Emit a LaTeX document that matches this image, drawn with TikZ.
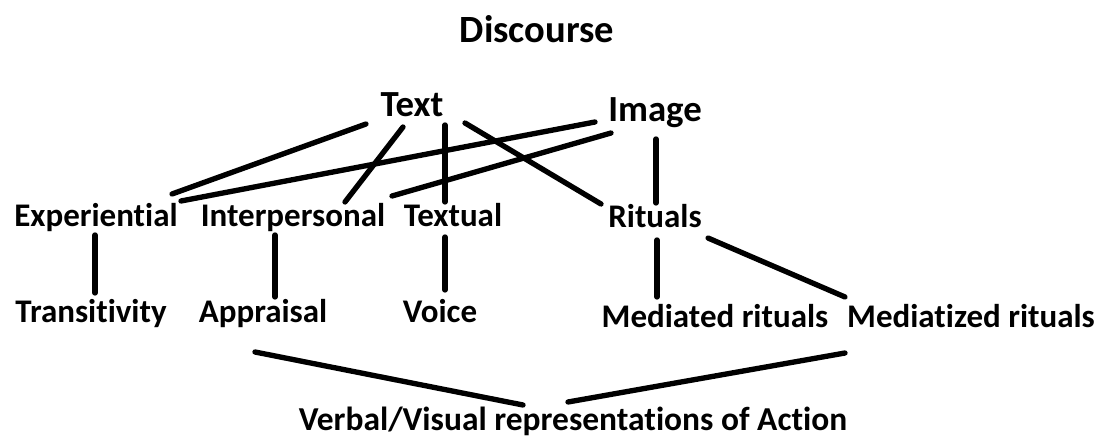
\documentclass[tikz,border=0pt]{standalone}
\usepackage{fontspec}
\setmainfont{Carlito}[RawFeature=-liga]
\begin{document}
\begin{tikzpicture}[x=0.75pt,y=-0.75pt,
  lbl/.style={font=\bfseries\fontsize{24.75pt}{28pt}\selectfont, inner sep=0pt, anchor=base},
  btm/.style={font=\bfseries\fontsize{25.1pt}{28pt}\selectfont, inner sep=0pt, anchor=base},
  big/.style={font=\bfseries\fontsize{27.6pt}{30pt}\selectfont, inner sep=0pt, anchor=base},
  ttl/.style={font=\bfseries\fontsize{28.9pt}{32pt}\selectfont, inner sep=0pt, anchor=base},
  conn/.style={line width=4pt, line cap=round}]
\useasboundingbox (0,0) rectangle (1099,441);
% nodes
\node[ttl] (discourse) at (537,43) {Discourse};
\node[big] (text) at (412,117) {Text};
\node[big] (image) at (655,122) {Image};
\node[lbl] (exp) at (96,227) {Experiential};
\node[lbl] (interp) at (293,227) {Interpersonal};
\node[lbl] (textual) at (453,227) {Textual};
\node[lbl] (rituals) at (655,228) {Rituals};
\node[lbl] (trans) at (91,323) {Transitivity};
\node[lbl] (appr) at (263,323) {Appraisal};
\node[lbl] (voice) at (440,323) {Voice};
\node[lbl] (medd) at (715,328) {Mediated rituals};
\node[lbl] (medz) at (971,328) {Mediatized rituals};
\node[btm] (verbal) at (573,430) {Verbal/Visual representations of Action};
% connector end points
\coordinate (text-a) at (366,124);
\coordinate (exp-a) at (172,194);
\coordinate (image-a) at (595,122);
\coordinate (exp-b) at (181,201);
\coordinate (text-b) at (403,127);
\coordinate (interp-a) at (345,202);
\coordinate (text-c) at (445,125);
\coordinate (textual-a) at (445,202);
\coordinate (image-b) at (611,133);
\coordinate (interp-b) at (392,196);
\coordinate (text-d) at (465,123);
\coordinate (rituals-a) at (601,204);
\coordinate (image-c) at (656,139);
\coordinate (rituals-b) at (656,203);
\coordinate (exp-c) at (95,235);
\coordinate (trans-a) at (95,293);
\coordinate (interp-c) at (275,235);
\coordinate (appr-a) at (275,297);
\coordinate (textual-b) at (445,237);
\coordinate (voice-a) at (445,290);
\coordinate (rituals-c) at (657,240);
\coordinate (medd-a) at (657,297);
\coordinate (rituals-d) at (708,238);
\coordinate (medz-a) at (845,297);
\coordinate (appr-b) at (255,352);
\coordinate (verbal-a) at (523,405);
\coordinate (medz-b) at (845,353);
\coordinate (verbal-b) at (568,402);
% connectors
\draw[conn] (text-a) -- (exp-a);
\draw[conn] (image-a) -- (exp-b);
\draw[conn] (text-b) -- (interp-a);
\draw[conn] (text-c) -- (textual-a);
\draw[conn] (image-b) -- (interp-b);
\draw[conn] (text-d) -- (rituals-a);
\draw[conn] (image-c) -- (rituals-b);
\draw[conn] (exp-c) -- (trans-a);
\draw[conn] (interp-c) -- (appr-a);
\draw[conn] (textual-b) -- (voice-a);
\draw[conn] (rituals-c) -- (medd-a);
\draw[conn] (rituals-d) -- (medz-a);
\draw[conn] (appr-b) -- (verbal-a);
\draw[conn] (medz-b) -- (verbal-b);
\end{tikzpicture}
\end{document}
